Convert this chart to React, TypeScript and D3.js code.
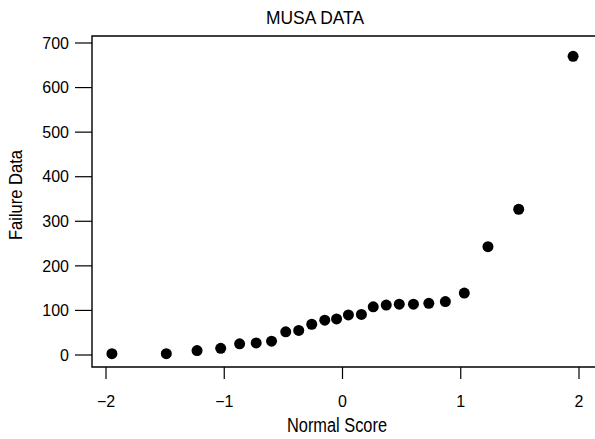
import React from "react";
import * as d3 from "d3";

// normal scores (x) and failure data (y)
const normalScores = [
  -1.95, -1.49, -1.23, -1.03, -0.87, -0.73, -0.6, -0.48, -0.37, -0.26, -0.15, -0.05,
  0.05, 0.16, 0.26, 0.37, 0.48, 0.6, 0.73, 0.87, 1.03, 1.23, 1.49, 1.95,
];
const failureData = [
  3, 3, 10, 15, 25, 27, 31, 52, 55, 69, 78, 81, 90, 91, 108, 112, 114, 114, 116,
  120, 139, 243, 327, 670,
];
const xTicks = [-2, -1, 0, 1, 2];
const yTicks = [0, 100, 200, 300, 400, 500, 600, 700];

const W = 595,
  H = 439;
const frame = { left: 92, top: 36, bottom: 367 };
const font = "'Liberation Sans', Arial, Helvetica, sans-serif";

export default function App() {
  const x = d3.scaleLinear().domain([-2, 2]).range([106, 579]);
  const y = d3.scaleLinear().domain([0, 700]).range([355, 43]);
  const fmt = (v: number) => (v < 0 ? "\u2212" + Math.abs(v) : String(v));

  return (
    <svg
      width={W}
      height={H}
      style={{ position: "absolute", left: 0, top: 0, background: "#fff" }}
      fontFamily={font}
    >
      <rect width={W} height={H} fill="#fff" />
      {/* plot frame, runs off the right edge */}
      <path
        d={`M${W + 5},${frame.top}H${frame.left}V${frame.bottom}H${W + 5}`}
        fill="none"
        stroke="#000"
        strokeWidth={1.4}
      />

      {/* y axis */}
      {yTicks.map((t) => (
        <g key={"y" + t}>
          <line x1={75} x2={frame.left} y1={y(t)} y2={y(t)} stroke="#000" strokeWidth={1.2} />
          <text x={69} y={y(t)} dy="0.36em" textAnchor="end" fontSize={16}>
            {t}
          </text>
        </g>
      ))}

      {/* x axis */}
      {xTicks.map((t) => (
        <g key={"x" + t}>
          <line x1={x(t)} x2={x(t)} y1={frame.bottom} y2={379} stroke="#000" strokeWidth={1.2} />
          <text x={x(t)} y={407} textAnchor="middle" fontSize={16}>
            {fmt(t)}
          </text>
        </g>
      ))}

      {/* points */}
      {normalScores.map((s, i) => (
        <circle key={i} cx={x(s)} cy={y(failureData[i])} r={5.5} fill="#000" />
      ))}

      <text x={315} y={24} textAnchor="middle" fontSize={18} textLength={98} lengthAdjust="spacingAndGlyphs">
        MUSA DATA
      </text>
      <text x={337} y={432} textAnchor="middle" fontSize={20} textLength={100} lengthAdjust="spacingAndGlyphs">
        Normal Score
      </text>
      <text
        transform="translate(22,195) rotate(-90)"
        textAnchor="middle"
        fontSize={19}
        textLength={90}
        lengthAdjust="spacingAndGlyphs"
      >
        Failure Data
      </text>
    </svg>
  );
}
